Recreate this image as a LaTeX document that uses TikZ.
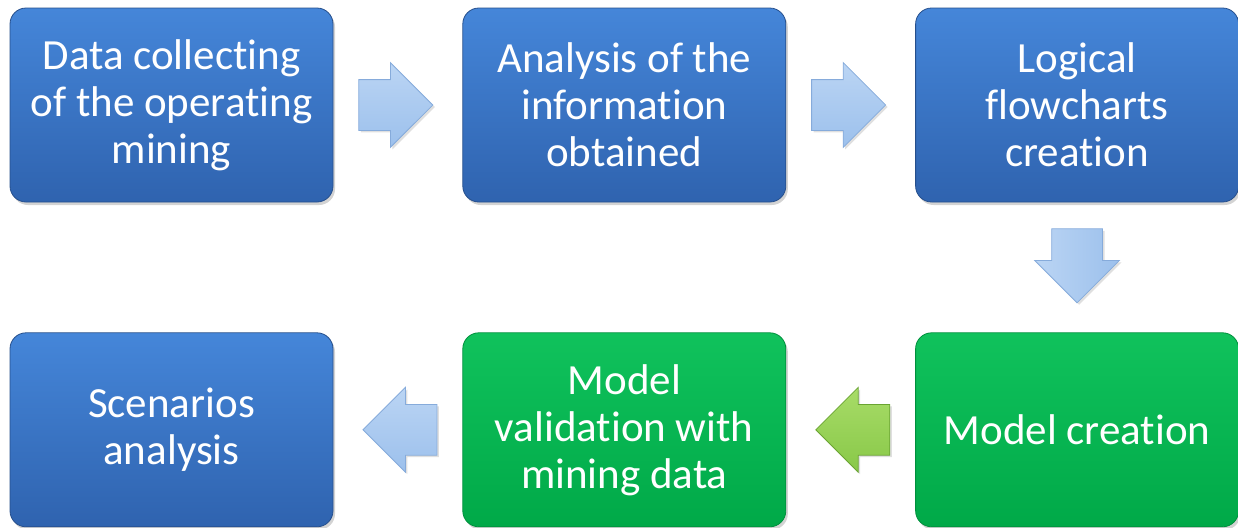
\documentclass[tikz,border=0pt]{standalone}
\usepackage{fontspec}
\setmainfont{Carlito}[Ligatures=NoCommon]
\usepackage{xcolor}
\usepackage{tikz}
\usetikzlibrary{positioning,shapes,arrows,shadows}

\definecolor{boxblueT}{HTML}{4586D9}
\definecolor{boxblueB}{HTML}{2F63AF}
\definecolor{boxgreenT}{HTML}{10C25C}
\definecolor{boxgreenB}{HTML}{00A948}
\definecolor{arrblueT}{HTML}{BBD5F4}
\definecolor{arrblueB}{HTML}{9CC0EC}
\definecolor{arrblueE}{HTML}{86ABDB}
\definecolor{arrgreenT}{HTML}{A8DC68}
\definecolor{arrgreenB}{HTML}{88C848}
\definecolor{arrgreenE}{HTML}{6AA432}

\tikzset{
  stage/.style={rectangle, rounded corners=8pt, minimum width=161.5pt,
    minimum height=97pt, align=center, text=white, inner sep=2pt,
    font=\fontsize{21.5}{23.5}\selectfont,
    drop shadow={shadow xshift=1pt, shadow yshift=-1.5pt, opacity=0.35}},
  bluestage/.style={stage, top color=boxblueT, bottom color=boxblueB, draw=boxblueB!80!black},
  greenstage/.style={stage, top color=boxgreenT, bottom color=boxgreenB, draw=boxgreenB!85!black},
  barrow/.style={single arrow, inner sep=0pt, text height=12.5pt, text depth=12.5pt,
    text width=0pt, minimum height=37pt, single arrow head extend=8.5pt,
    single arrow head indent=0pt, draw=arrblueE, thin,
    top color=arrblueT, bottom color=arrblueB,
    drop shadow={shadow xshift=1pt, shadow yshift=-1pt, opacity=0.25}},
  varrow/.style={barrow, shape border rotate=270, text width=25pt,
    text height=0pt, text depth=0pt, left color=arrblueT, right color=arrblueB},
  garrow/.style={barrow, draw=arrgreenE, top color=arrgreenT, bottom color=arrgreenB}
}

\begin{document}
\begin{tikzpicture}[x=0.5pt,y=-0.5pt]
  \useasboundingbox (0,0) rectangle (1238,527);
  \draw node[bluestage] (b1) at (171.5,105) {Data collecting\\of the operating\\mining};
  \draw node[bluestage, right=64.5pt of b1] (b2) {Analysis of the\\information\\obtained};
  \draw node[bluestage, right=64.5pt of b2] (b3) {Logical\\flowcharts\\creation};
  \draw node[greenstage, below=65pt of b3] (b6) {Model creation};
  \draw node[greenstage, left=64.5pt of b6] (b5) {Model\\validation with\\mining data};
  \draw node[bluestage, left=64.5pt of b5] (b4) {Scenarios\\analysis};
  % block arrows between the stages
  \draw node[barrow, right=12.5pt of b1] (a12) {};
  \draw node[barrow, right=12.5pt of b2] (a23) {};
  \draw node[varrow, below=13pt of b3] (a36) {};
  \draw node[garrow, shape border rotate=180, left=12.5pt of b6] (a65) {};
  \draw node[barrow, shape border rotate=180, left=12.5pt of b5] (a54) {};
\end{tikzpicture}
\end{document}
